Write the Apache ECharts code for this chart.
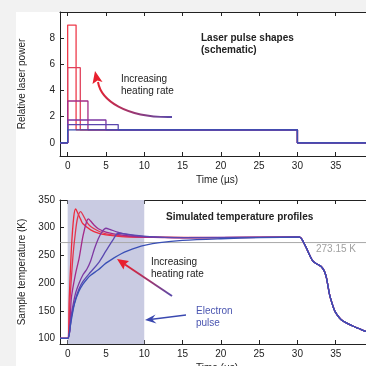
<!DOCTYPE html>
<html>
<head>
<meta charset="utf-8">
<script src="https://cdn.jsdelivr.net/npm/echarts@6/dist/echarts.min.js"></script>
<style>
  html, body { margin: 0; padding: 0; background: #f2f2f2; }
  #chart { width: 366px; height: 366px; }
</style>
</head>
<body>
<div id="chart"></div>
<script>
// laser pulses: height and width (µs) of each rectangular pulse, fastest first
var pulseHeights = [9, 5.75, 3.2, 1.75, 1.4, 1];
var pulseWidths = [1.1, 1.65, 2.65, 5, 6.6, 30];
var pulseColors = ['#ee3a4a', '#e0405a', '#a42c86', '#7c36a2', '#5a46ae', '#3a50b2'];
var pulseOff = 30;

// simulated temperatures (K) at time points (µs)
var tempT1 = [-1, 0, 0.2, 0.5, 0.8, 1.05, 1.3, 1.7, 2, 3, 4, 5, 7, 10, 20, 30];
var tempK1 = [100, 100, 170, 265, 320, 334, 327, 315, 307, 296, 290, 287, 284, 283, 282, 283];
var tempT2 = [-1, 0, 0.3, 0.7, 1, 1.3, 1.7, 2, 2.5, 3, 4, 5, 7, 10, 20, 30];
var tempK2 = [100, 100, 170, 250, 290, 318, 329, 323, 310, 302, 294, 289, 285, 283, 282, 283];
var tempT3 = [-1, 0, 0.5, 1, 1.5, 2, 2.5, 2.7, 3, 3.5, 4, 5, 6, 8, 10, 15, 30];
var tempK3 = [100, 100, 175, 215, 245, 285, 312, 316, 312, 304, 298, 292, 289, 285, 283, 282, 283];
var tempT4 = [-1, 0, 0.5, 1, 1.5, 2, 2.5, 3, 3.5, 4, 4.5, 5, 5.5, 6.5, 8, 10, 15, 30];
var tempK4 = [100, 100, 145, 180, 200, 215, 225, 240, 262, 280, 293, 299, 297, 292, 287, 284, 282, 283];
var tempT5 = [-1, 0, 0.5, 1, 1.5, 2, 3, 4, 5, 6, 6.6, 7.5, 9, 12, 20, 30];
var tempK5 = [100, 100, 140, 170, 190, 203, 220, 236, 258, 280, 290, 289, 286, 283, 282, 283];
var tempT6 = [-1, 0, 0.3, 0.5, 0.9, 1.5, 2, 2.5, 3, 4, 5, 6, 7, 8, 9, 10, 12, 15, 20, 25, 30];
var tempK6 = [100, 100, 120, 135, 163, 186, 198, 207, 214, 224, 236, 245, 253, 259, 264, 268, 273, 277, 280, 282, 283];
// cooling after the pulse ends (shared by all curves)
var coolT = [30.3, 31, 32, 32.6, 33.1, 33.5, 33.8, 34.2, 34.6, 34.9, 35.5, 36, 36.7, 37.3, 38, 38.9, 40];
var coolK = [283, 268, 240, 234, 230, 222, 209, 179, 160, 149, 137, 131, 126, 122, 118, 113, 110];

var tempTs = [tempT1, tempT2, tempT3, tempT4, tempT5, tempT6];
var tempKs = [tempK1, tempK2, tempK3, tempK4, tempK5, tempK6];
var curveColors = ['#ee2a3c', '#e23650', '#a42a8a', '#7e38a2', '#5a48b0', '#3a50b6'];

var meltK = 273.15;
var xTicks = [0, 5, 10, 15, 20, 25, 30, 35, 40];
var powerTicks = [0, 2, 4, 6, 8];
var tempTicks = [100, 150, 200, 250, 300, 350];

var FONT = 'Liberation Sans';

function pulsePoints(h, w) {
  return [[-1, 0], [0, 0], [0, h], [w, h], [w, 1], [pulseOff, 1], [pulseOff, 0], [40, 0]];
}

function tempPoints(ts, ks) {
  var pts = ts.map(function (t, i) { return [t, ks[i]]; });
  coolT.forEach(function (t, i) { pts.push([t, coolK[i]]); });
  return pts;
}

function xAxisDef(gridIndex, pos, showLabels) {
  return {
    type: 'value', gridIndex: gridIndex, position: pos, min: -1, max: 40,
    name: showLabels ? 'Time (µs)' : '', nameLocation: 'middle', nameGap: 19,
    nameTextStyle: { fontFamily: FONT, fontSize: 10, color: '#222' },
    axisLine: { show: true, onZero: false, lineStyle: { color: '#222', width: 1 } },
    axisTick: { show: true, inside: true, length: 4, customValues: xTicks, lineStyle: { color: '#222' } },
    axisLabel: { show: showLabels, customValues: xTicks, fontFamily: FONT, fontSize: 10, color: '#222', margin: 5 },
    splitLine: { show: false }
  };
}

function yAxisDef(gridIndex, min, max, ticks, name) {
  return {
    type: 'value', gridIndex: gridIndex, min: min, max: max,
    name: name, nameLocation: 'middle', nameGap: 33,
    nameTextStyle: { fontFamily: FONT, fontSize: 10, color: '#222' },
    axisLine: { show: true, onZero: false, lineStyle: { color: '#222', width: 1 } },
    axisTick: { show: true, inside: true, length: 4, customValues: ticks, lineStyle: { color: '#222' } },
    axisLabel: { customValues: ticks, fontFamily: FONT, fontSize: 10, color: '#222', margin: 5 },
    splitLine: { show: false }
  };
}

var series = [];

// top panel: pulse shapes, blue drawn last so it sits on top
pulseHeights.forEach(function (h, i) {
  series.push({
    type: 'line', xAxisIndex: 0, yAxisIndex: 0, symbol: 'none', silent: true,
    data: pulsePoints(h, pulseWidths[i]),
    lineStyle: { color: pulseColors[i], width: 1.3 },
    z: 2 + i
  });
});

// bottom panel: shaded electron pulse region and 273.15 K line
series.push({
  type: 'line', xAxisIndex: 2, yAxisIndex: 1, symbol: 'none', silent: true,
  data: [[-1, meltK], [40, meltK]],
  lineStyle: { color: '#a8a8a8', width: 1 },
  z: 1,
  markArea: {
    silent: true,
    itemStyle: { color: '#c9cbe2' },
    data: [[{ xAxis: 0 }, { xAxis: 10 }]]
  }
});

// temperature curves, blue on top
tempTs.slice().reverse().forEach(function (ts, r) {
  var i = tempTs.length - 1 - r;
  series.push({
    type: 'line', xAxisIndex: 2, yAxisIndex: 1, symbol: 'none', silent: true, smooth: 0.3,
    data: tempPoints(ts, tempKs[i]),
    lineStyle: { color: curveColors[i], width: 1.3 },
    z: 3 + (i === 5 ? 10 : i)
  });
});

function grad(x0, y0, x1, y1, c0, c1) {
  return new echarts.graphic.LinearGradient(x0, y0, x1, y1, [
    { offset: 0, color: c0 }, { offset: 1, color: c1 }
  ], true);
}

function label(x, y, text, opts) {
  return {
    type: 'text', left: x, top: y, z: 50,
    style: Object.assign({
      text: text, fontFamily: FONT, fontSize: 10, fill: '#222', lineHeight: 12
    }, opts || {})
  };
}

var chart = echarts.init(document.getElementById('chart'));
chart.setOption({
  backgroundColor: '#f2f2f2',
  animation: false,
  grid: [
    { left: 60, top: 12, width: 314, height: 144, outerBoundsMode: 'none' },
    { left: 60, top: 200, width: 314, height: 144, outerBoundsMode: 'none' }
  ],
  xAxis: [
    xAxisDef(0, 'bottom', true),
    xAxisDef(0, 'top', false),
    xAxisDef(1, 'bottom', true),
    xAxisDef(1, 'top', false)
  ],
  yAxis: [
    yAxisDef(0, -1, 10, powerTicks, 'Relative laser power'),
    yAxisDef(1, 90, 350, tempTicks, 'Sample temperature (K)')
  ],
  series: series,
  graphic: [
    { type: 'rect', shape: { x: 16, y: 12, width: 350, height: 354 }, style: { fill: '#fff' }, z: -10, silent: true },
    label(201, 32, 'Laser pulse shapes\n(schematic)', { fontWeight: 'bold' }),
    label(121, 73, 'Increasing\nheating rate'),
    label(166, 211, 'Simulated temperature profiles', { fontWeight: 'bold' }),
    label(151, 256, 'Increasing\nheating rate'),
    label(196, 305, 'Electron\npulse', { fill: '#4a55b0' }),
    label(316, 243, '273.15 K', { fill: '#a0a0a0' }),
    // curved arrow, top panel
    { type: 'bezierCurve', z: 40, silent: true,
      shape: { x1: 172, y1: 117, x2: 98, y2: 82, cpx1: 125, cpy1: 118, cpx2: 101, cpy2: 100 },
      style: { stroke: grad(172, 117, 98, 82, '#5a4aaa', '#e8202e'), lineWidth: 2, fill: null } },
    { type: 'polygon', z: 41, silent: true,
      shape: { points: [[95, 71], [102.5, 82], [97.5, 80.5], [92.5, 84]] },
      style: { fill: '#e8202e' } },
    // straight arrow, bottom panel
    { type: 'line', z: 40, silent: true,
      shape: { x1: 172, y1: 296, x2: 125, y2: 264.5 },
      style: { stroke: grad(172, 296, 125, 264, '#5a4aaa', '#e8202e'), lineWidth: 2 } },
    { type: 'polygon', z: 41, silent: true,
      shape: { points: [[117, 259], [129, 261], [125, 264.5], [123.5, 269.5]] },
      style: { fill: '#e8202e' } },
    // electron pulse arrow
    { type: 'line', z: 40, silent: true,
      shape: { x1: 186, y1: 315, x2: 152, y2: 319.2 },
      style: { stroke: '#3a48b0', lineWidth: 1.5 } },
    { type: 'polygon', z: 41, silent: true,
      shape: { points: [[145, 320], [155.5, 314.5], [152, 319.2], [156.5, 323.5]] },
      style: { fill: '#3a48b0' } }
  ]
});
</script>
</body>
</html>
